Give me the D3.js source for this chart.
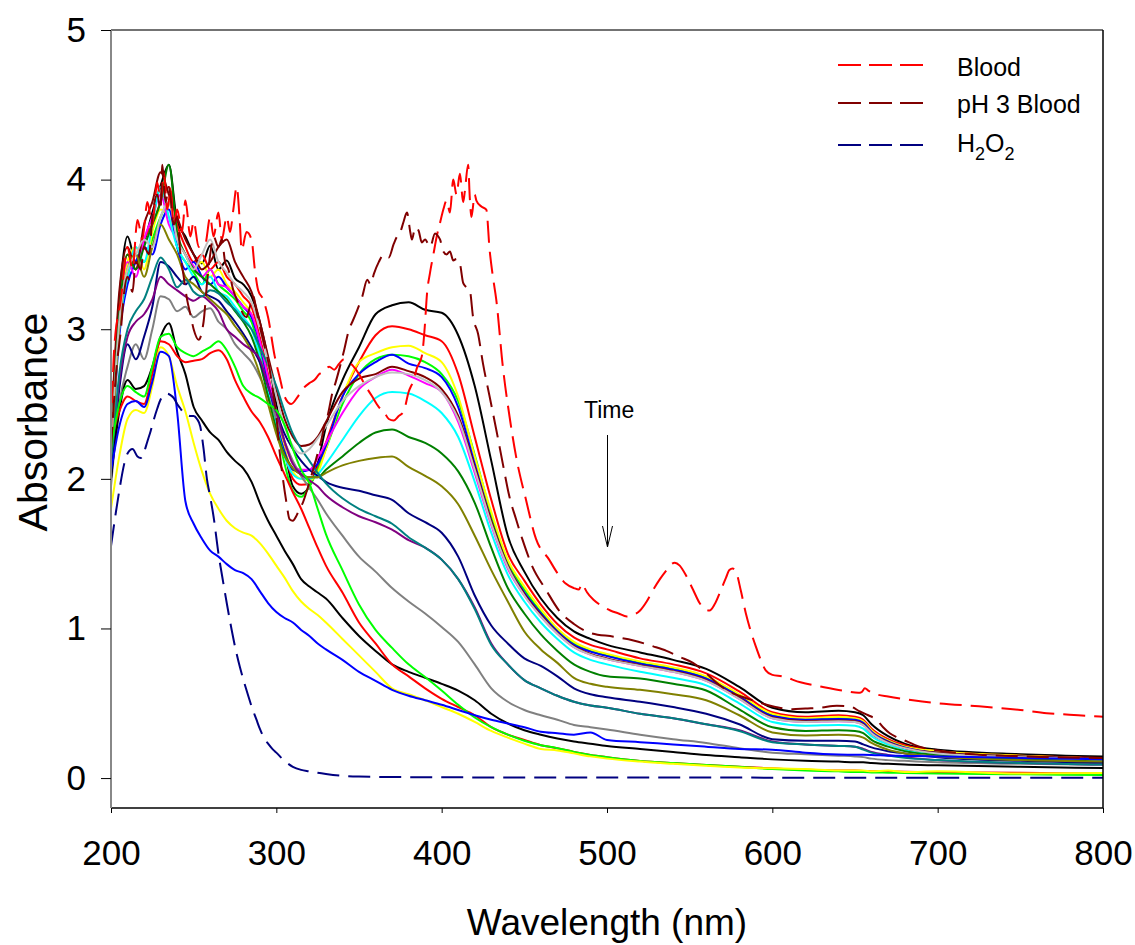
<!DOCTYPE html>
<html>
<head>
<meta charset="utf-8">
<script src="https://cdn.jsdelivr.net/npm/d3@7"></script>
<style>
  body { margin: 0; background: #fff; }
  svg { display: block; font-family: "Liberation Sans", Arial, sans-serif; }
</style>
</head>
<body>
<svg id="chart" width="1135" height="945"></svg>
<script>
// wavelength grid shared by the 20 solid time scans (nm)
const wl = [200,205,210,215,220,225,230,235,240,245,250,255,260,265,270,275,280,285,290,295,300,
  305,310,315,320,325,330,
  340,350,360,370,380,390,400,410,420,430,440,450,460,470,480,490,500,
  520,540,560,580,600,620,640,
  650,655,660,670,680,
  700,750,800];

// solid scans, absorbance on the wl grid
const scanBlack1 = [2.30,3.20,3.62,3.45,3.58,3.78,3.96,4.10,3.72,3.62,3.50,3.44,3.56,3.40,3.46,3.34,3.30,3.22,3.05,2.80,2.50,
  2.20,1.95,1.90,1.95,2.10,2.35,
  2.66,2.88,3.10,3.16,3.18,3.13,3.11,2.96,2.62,2.12,1.62,1.38,1.20,1.07,0.98,0.93,0.89,
  0.84,0.79,0.73,0.61,0.47,0.44,0.45,
  0.44,0.42,0.36,0.28,0.23,
  0.19,0.16,0.145];
const scanRed1 = [2.20,3.10,3.50,3.40,3.60,3.70,3.85,3.95,3.70,3.55,3.45,3.50,3.40,3.45,3.35,3.30,3.22,3.15,2.95,2.70,2.42,
  2.18,2.00,1.96,1.97,2.08,2.24,
  2.55,2.78,2.96,3.02,3.00,2.96,2.92,2.70,2.28,1.86,1.50,1.32,1.16,1.03,0.94,0.89,0.86,
  0.80,0.76,0.70,0.58,0.44,0.41,0.42,
  0.41,0.39,0.33,0.26,0.22,
  0.18,0.15,0.135];
const scanLime1 = [2.15,3.00,3.35,3.50,3.45,3.60,3.75,3.85,3.55,3.45,3.38,3.30,3.40,3.30,3.25,3.20,3.12,3.05,2.85,2.60,2.35,
  2.10,1.92,1.88,1.95,2.06,2.20,
  2.50,2.70,2.80,2.83,2.82,2.78,2.70,2.52,2.16,1.76,1.44,1.26,1.11,0.99,0.90,0.85,0.82,
  0.77,0.73,0.67,0.55,0.42,0.395,0.40,
  0.395,0.375,0.315,0.25,0.21,
  0.175,0.145,0.13];
const scanYellow1 = [2.25,3.05,3.45,3.55,3.40,3.65,3.80,3.75,3.60,3.50,3.40,3.45,3.35,3.40,3.30,3.25,3.18,3.10,2.90,2.66,2.40,
  2.20,2.05,2.00,1.99,2.04,2.20,
  2.55,2.78,2.84,2.88,2.89,2.84,2.78,2.55,2.15,1.78,1.46,1.28,1.13,1.00,0.91,0.86,0.83,
  0.78,0.74,0.68,0.56,0.43,0.40,0.41,
  0.40,0.38,0.32,0.25,0.21,
  0.18,0.15,0.13];
const scanBlue1 = [2.10,2.95,3.30,3.45,3.55,3.50,3.70,3.80,3.55,3.40,3.45,3.35,3.30,3.35,3.28,3.22,3.15,3.08,2.90,2.64,2.38,
  2.18,2.06,2.05,2.06,2.10,2.22,
  2.55,2.70,2.78,2.83,2.77,2.74,2.68,2.48,2.10,1.72,1.42,1.24,1.10,0.98,0.89,0.845,0.815,
  0.765,0.725,0.665,0.545,0.415,0.39,0.395,
  0.39,0.37,0.31,0.245,0.205,
  0.17,0.145,0.13];
const scanMagenta = [2.15,3.10,3.45,3.35,3.60,3.75,3.90,3.70,3.60,3.50,3.42,3.35,3.40,3.30,3.28,3.22,3.15,3.10,2.92,2.68,2.45,
  2.25,2.10,2.06,2.06,2.14,2.24,
  2.44,2.60,2.68,2.73,2.69,2.64,2.58,2.38,2.04,1.69,1.40,1.22,1.08,0.965,0.875,0.825,0.795,
  0.75,0.71,0.65,0.53,0.40,0.375,0.38,
  0.375,0.355,0.30,0.235,0.20,
  0.165,0.14,0.125];
const scanCyan = [2.10,3.00,3.35,3.55,3.45,3.70,3.95,3.75,3.55,3.45,3.35,3.30,3.35,3.25,3.22,3.15,3.08,3.00,2.82,2.58,2.35,
  2.15,2.03,2.00,2.00,2.03,2.10,
  2.26,2.42,2.54,2.58,2.57,2.52,2.44,2.28,1.98,1.64,1.36,1.18,1.04,0.93,0.84,0.79,0.76,
  0.71,0.67,0.62,0.50,0.375,0.35,0.355,
  0.35,0.33,0.28,0.225,0.19,
  0.16,0.135,0.125];
const scanGray = [1.95,2.50,2.75,2.90,2.80,3.00,3.22,3.20,3.12,3.15,3.08,3.12,3.14,3.05,3.00,2.90,2.84,2.78,2.68,2.55,2.40,
  2.25,2.12,2.02,1.94,1.86,1.77,
  1.62,1.48,1.38,1.27,1.18,1.10,1.01,0.91,0.76,0.60,0.51,0.455,0.42,0.39,0.355,0.34,0.325,
  0.29,0.26,0.235,0.20,0.17,0.16,0.15,
  0.145,0.14,0.13,0.12,0.115,
  0.105,0.095,0.09];
const scanMaroon = [2.30,3.25,3.55,3.40,3.70,3.85,4.05,3.90,3.75,3.60,3.50,3.40,3.45,3.55,3.60,3.45,3.35,3.25,3.05,2.82,2.60,
  2.40,2.28,2.22,2.23,2.28,2.38,
  2.58,2.67,2.70,2.75,2.72,2.68,2.60,2.42,2.08,1.72,1.42,1.23,1.09,0.97,0.88,0.83,0.80,
  0.755,0.715,0.655,0.535,0.405,0.38,0.385,
  0.38,0.36,0.30,0.24,0.20,
  0.17,0.145,0.13];
const scanDarkGreen = [2.20,3.10,3.50,3.40,3.55,3.70,3.85,4.10,3.65,3.50,3.40,3.35,3.30,3.25,3.20,3.12,3.05,2.95,2.78,2.55,2.33,
  2.16,2.07,2.03,2.01,2.01,2.06,
  2.15,2.24,2.31,2.33,2.28,2.24,2.17,2.05,1.84,1.54,1.27,1.10,0.96,0.85,0.76,0.71,0.68,
  0.665,0.63,0.585,0.46,0.34,0.315,0.32,
  0.315,0.30,0.255,0.21,0.18,
  0.155,0.13,0.12];
const scanNavy = [2.00,2.60,2.90,2.80,2.95,3.15,3.45,3.42,3.35,3.30,3.35,3.25,3.22,3.19,3.12,3.05,2.97,2.88,2.78,2.62,2.45,
  2.30,2.20,2.12,2.06,2.02,1.98,
  1.94,1.92,1.89,1.86,1.77,1.71,1.64,1.48,1.22,1.02,0.90,0.80,0.75,0.68,0.60,0.56,0.54,
  0.51,0.475,0.43,0.36,0.26,0.25,0.25,
  0.245,0.225,0.205,0.18,0.165,
  0.14,0.115,0.10];
const scanOlive = [2.10,3.00,3.40,3.50,3.35,3.55,3.70,3.60,3.50,3.35,3.30,3.25,3.20,3.15,3.10,3.02,2.95,2.85,2.70,2.50,2.30,
  2.15,2.07,2.03,2.01,2.01,2.04,
  2.09,2.12,2.14,2.15,2.08,2.02,1.95,1.83,1.62,1.39,1.18,0.98,0.86,0.77,0.67,0.63,0.61,
  0.59,0.56,0.52,0.42,0.305,0.285,0.29,
  0.285,0.27,0.235,0.19,0.165,
  0.145,0.12,0.11];
const scanPurple = [2.05,2.65,2.95,3.05,3.10,3.20,3.35,3.30,3.26,3.22,3.19,3.22,3.18,3.12,3.00,2.95,2.90,2.86,2.80,2.62,2.45,
  2.25,2.10,2.03,1.99,1.95,1.89,
  1.81,1.75,1.71,1.66,1.59,1.54,1.46,1.33,1.14,0.90,0.76,0.655,0.60,0.55,0.51,0.485,0.47,
  0.43,0.40,0.36,0.32,0.245,0.225,0.215,
  0.21,0.195,0.175,0.155,0.14,
  0.12,0.10,0.09];
const scanTeal = [2.05,2.70,3.00,3.12,3.20,3.35,3.48,3.40,3.28,3.33,3.25,3.22,3.26,3.24,3.18,3.13,3.06,3.00,2.88,2.76,2.62,
  2.45,2.30,2.20,2.12,2.04,1.97,
  1.87,1.80,1.75,1.70,1.61,1.54,1.46,1.33,1.13,0.89,0.76,0.655,0.60,0.55,0.51,0.485,0.47,
  0.43,0.40,0.36,0.315,0.24,0.225,0.215,
  0.21,0.19,0.17,0.15,0.135,
  0.12,0.10,0.09];
const scanSilver = [2.20,3.05,3.40,3.50,3.60,3.55,3.75,3.85,3.60,3.50,3.40,3.50,3.60,3.45,3.38,3.30,3.25,3.18,3.00,2.78,2.55,
  2.35,2.22,2.17,2.20,2.27,2.35,
  2.52,2.62,2.68,2.71,2.70,2.66,2.58,2.40,2.06,1.70,1.41,1.22,1.08,0.965,0.875,0.825,0.795,
  0.75,0.71,0.65,0.53,0.40,0.375,0.38,
  0.375,0.355,0.30,0.235,0.20,
  0.165,0.14,0.125];
const scanBlack2 = [2.00,2.45,2.66,2.60,2.62,2.75,2.95,3.04,2.85,2.70,2.48,2.39,2.31,2.26,2.18,2.12,2.07,1.98,1.84,1.72,1.62,
  1.52,1.43,1.33,1.28,1.24,1.20,
  1.07,0.95,0.85,0.76,0.71,0.67,0.63,0.585,0.52,0.43,0.365,0.32,0.29,0.265,0.245,0.23,0.215,
  0.195,0.175,0.155,0.14,0.125,0.115,0.11,
  0.105,0.105,0.10,0.095,0.09,
  0.085,0.075,0.067];
const scanRed2 = [2.25,2.45,2.55,2.52,2.50,2.70,2.92,2.90,2.82,2.78,2.79,2.80,2.84,2.86,2.80,2.66,2.55,2.45,2.38,2.28,2.15,
  2.03,1.91,1.80,1.67,1.54,1.42,
  1.24,1.04,0.90,0.76,0.68,0.60,0.53,0.475,0.42,0.34,0.29,0.255,0.22,0.20,0.175,0.155,0.14,
  0.115,0.10,0.088,0.075,0.065,0.055,0.05,
  0.05,0.048,0.046,0.044,0.042,
  0.04,0.035,0.03];
const scanLime2 = [2.20,2.50,2.62,2.58,2.55,2.75,2.95,2.97,2.88,2.84,2.82,2.85,2.88,2.92,2.86,2.75,2.62,2.57,2.54,2.50,2.46,
  2.36,2.20,2.06,1.97,1.80,1.63,
  1.39,1.16,0.99,0.87,0.76,0.675,0.585,0.49,0.405,0.34,0.29,0.25,0.22,0.20,0.175,0.155,0.14,
  0.115,0.10,0.088,0.075,0.06,0.05,0.045,
  0.04,0.04,0.038,0.036,0.034,
  0.03,0.025,0.02];
const scanYellow2 = [1.80,2.15,2.40,2.46,2.44,2.62,2.88,2.82,2.62,2.45,2.24,2.05,1.90,1.80,1.72,1.67,1.64,1.62,1.57,1.50,1.42,
  1.34,1.25,1.18,1.13,1.09,1.04,
  0.93,0.82,0.71,0.60,0.56,0.52,0.475,0.43,0.375,0.315,0.27,0.23,0.195,0.185,0.165,0.145,0.13,
  0.11,0.095,0.082,0.07,0.065,0.06,0.05,
  0.05,0.05,0.045,0.05,0.04,
  0.045,0.03,0.034];
const scanBlue2 = [2.05,2.35,2.50,2.52,2.48,2.65,2.85,2.82,2.45,1.85,1.70,1.60,1.52,1.48,1.43,1.39,1.37,1.33,1.25,1.17,1.11,
  1.07,1.04,0.99,0.95,0.90,0.86,
  0.79,0.71,0.65,0.59,0.55,0.52,0.49,0.455,0.42,0.39,0.365,0.34,0.31,0.30,0.29,0.305,0.255,
  0.24,0.225,0.21,0.195,0.19,0.17,0.158,
  0.156,0.156,0.155,0.15,0.148,
  0.145,0.135,0.126];

// reference spectra (dashed)
const bloodWl = [200,202,206,210,213,216,219,222,225,228,230,232,234,236,238,240,243,245,248,250,253,257,260,262,265,267,270,272,274,276,278,279,282,285,287,289,292,295,299,302,305,309,313,316,320,323,326,329,332,335,338,341,343,346,350,354,358,362,365,368,371,374,377,380,383,385,388,390,391,393,395,397,399,401,403,405,407,409,411,413,414,416,417,418,420,421,424,427,429,431,433,437,441,445,451,457,465,470,475,480,483,485,486,488,492,497,502,507,512,516,520,524,528,532,536,539,541,544,548,552,556,559,562,565,569,572,574,576,578,581,584,587,590,593,596,600,606,617,630,645,652,654,656,658,663,670,685,700,725,750,766,785,800];
const bloodAbs = [2.30,2.88,3.20,3.55,3.40,3.73,3.60,3.85,3.70,3.98,3.85,4.05,3.80,3.92,3.70,3.80,3.65,3.86,3.62,3.72,3.55,3.57,3.75,3.62,3.78,3.60,3.75,3.65,3.80,3.95,3.70,3.53,3.65,3.60,3.40,3.26,3.20,3.08,2.82,2.68,2.55,2.50,2.55,2.60,2.64,2.66,2.70,2.72,2.75,2.73,2.77,2.80,2.79,2.76,2.70,2.62,2.55,2.48,2.45,2.40,2.39,2.42,2.45,2.58,2.66,2.74,2.82,3.05,3.22,3.38,3.50,3.62,3.71,3.80,3.86,3.78,4.00,3.90,4.04,3.85,3.92,4.10,3.88,3.75,3.90,3.86,3.82,3.80,3.53,3.35,3.20,2.75,2.42,2.15,1.86,1.60,1.46,1.37,1.30,1.27,1.26,1.30,1.28,1.24,1.19,1.15,1.12,1.10,1.08,1.09,1.12,1.18,1.26,1.33,1.39,1.43,1.44,1.42,1.35,1.26,1.17,1.13,1.12,1.16,1.26,1.34,1.39,1.40,1.38,1.25,1.10,0.98,0.88,0.79,0.72,0.69,0.68,0.64,0.61,0.58,0.57,0.575,0.60,0.585,0.56,0.545,0.52,0.50,0.48,0.455,0.434,0.42,0.41];

const ph3Wl = [200,203,206,208,210,213,215,218,220,223,225,228,230,231,233,235,238,240,242,244,246,248,250,253,256,258,260,262,265,267,269,271,274,276,278,280,282,284,286,288,290,293,296,298,300,302,304,306,308,310,312,314,316,319,322,325,327,329,331,334,336,338,341,344,346,349,352,355,357,359,362,365,368,371,373,375,377,379,381,382,384,386,388,390,393,396,398,399,401,403,405,407,409,411,413,415,417,419,422,425,429,433,437,441,445,449,455,463,471,480,490,504,516,528,536,544,552,560,566,572,580,588,600,612,620,629,639,647,653,658,663,667,671,675,679,689,700,725,750,800];
const ph3Abs = [2.20,2.70,3.00,3.25,3.35,3.25,3.45,3.40,3.55,3.50,3.75,3.90,3.80,4.10,3.85,3.95,3.70,3.75,3.50,3.35,3.20,3.10,3.00,2.93,3.05,3.30,3.50,3.62,3.55,3.60,3.45,3.40,3.26,3.20,3.15,3.10,3.08,3.15,3.22,3.12,3.02,2.88,2.73,2.58,2.42,2.18,2.00,1.85,1.73,1.72,1.75,1.80,1.84,1.94,2.05,2.17,2.25,2.35,2.42,2.58,2.65,2.73,2.86,3.00,3.05,3.13,3.22,3.33,3.30,3.37,3.45,3.50,3.48,3.57,3.62,3.65,3.72,3.78,3.65,3.60,3.68,3.66,3.58,3.60,3.55,3.64,3.62,3.60,3.52,3.50,3.52,3.46,3.47,3.44,3.31,3.28,3.26,3.08,2.97,2.77,2.55,2.33,2.10,1.88,1.73,1.59,1.41,1.26,1.12,1.03,0.97,0.945,0.92,0.88,0.85,0.81,0.77,0.70,0.64,0.59,0.55,0.52,0.48,0.46,0.465,0.47,0.483,0.478,0.445,0.42,0.39,0.34,0.30,0.275,0.256,0.21,0.185,0.156,0.145,0.134];

const h2o2Wl = [200,203,205,208,210,213,216,218,220,222,224,226,228,230,232,234,236,238,240,242,244,246,248,250,252,254,256,258,260,262,265,268,270,273,275,278,280,283,285,288,290,293,295,298,300,305,310,315,320,325,330,340,350,370,400,500,600,700,800];
const h2o2Abs = [1.55,1.78,1.92,2.10,2.17,2.20,2.15,2.14,2.18,2.25,2.32,2.40,2.47,2.53,2.56,2.57,2.56,2.54,2.50,2.47,2.44,2.43,2.42,2.42,2.40,2.35,2.20,2.00,1.88,1.75,1.50,1.30,1.17,0.99,0.88,0.74,0.66,0.55,0.48,0.39,0.33,0.26,0.23,0.19,0.17,0.115,0.075,0.055,0.045,0.035,0.027,0.015,0.01,0.007,0.005,0.004,0.003,0.003,0.003];

const xTicks = [200, 300, 400, 500, 600, 700, 800];
const yTicks = [0, 1, 2, 3, 4, 5];

const scans = [
  { color: "#000000", values: scanBlack1 },
  { color: "#ff0000", values: scanRed1 },
  { color: "#00ff00", values: scanLime1 },
  { color: "#ffff00", values: scanYellow1 },
  { color: "#0000ff", values: scanBlue1 },
  { color: "#ff00ff", values: scanMagenta },
  { color: "#00ffff", values: scanCyan },
  { color: "#808080", values: scanGray },
  { color: "#800000", values: scanMaroon },
  { color: "#008000", values: scanDarkGreen },
  { color: "#000080", values: scanNavy },
  { color: "#808000", values: scanOlive },
  { color: "#800080", values: scanPurple },
  { color: "#008080", values: scanTeal },
  { color: "#c0c0c0", values: scanSilver },
  { color: "#000000", values: scanBlack2 },
  { color: "#ff0000", values: scanRed2 },
  { color: "#00ff00", values: scanLime2 },
  { color: "#ffff00", values: scanYellow2 },
  { color: "#0000ff", values: scanBlue2 }
];

const refs = [
  { label: "Blood", color: "#ff0000", wl: bloodWl, values: bloodAbs },
  { label: "pH 3 Blood", color: "#800000", wl: ph3Wl, values: ph3Abs },
  { label: "H2O2", color: "#000080", wl: h2o2Wl, values: h2o2Abs }
];

const plotL = 111, plotR = 1103, plotT = 30, plotB = 808;

const svg = d3.select("#chart");

const x = d3.scaleLinear().domain([200, 800]).range([plotL, plotR]);
const y = d3.scaleLinear().domain([-0.2, 5]).range([plotB, plotT]);

const line = d3.line()
  .x(d => x(d[0]))
  .y(d => y(d[1]))
  .curve(d3.curveMonotoneX);

const plot = svg.append("g");

// solid time scans
scans.forEach(s => {
  plot.append("path")
    .datum(wl.map((w, i) => [w, s.values[i]]))
    .attr("fill", "none")
    .attr("stroke", s.color)
    .attr("stroke-width", 2)
    .attr("stroke-linejoin", "round")
    .attr("d", line);
});

// dashed reference spectra on top
refs.forEach(r => {
  plot.append("path")
    .datum(r.wl.map((w, i) => [w, r.values[i]]))
    .attr("fill", "none")
    .attr("stroke", r.color)
    .attr("stroke-width", 2)
    .attr("stroke-dasharray", "22,9")
    .attr("d", line);
});

// frame
svg.append("line").attr("x1", plotL).attr("x2", plotR).attr("y1", plotT).attr("y2", plotT)
  .attr("stroke", "#444").attr("stroke-width", 1.5);
svg.append("line").attr("x1", plotR).attr("x2", plotR).attr("y1", plotT).attr("y2", plotB)
  .attr("stroke", "#000").attr("stroke-width", 1.5);
svg.append("line").attr("x1", plotL).attr("x2", plotR).attr("y1", plotB).attr("y2", plotB)
  .attr("stroke", "#000").attr("stroke-width", 1.5);
svg.append("line").attr("x1", plotL).attr("x2", plotL).attr("y1", plotT).attr("y2", plotB)
  .attr("stroke", "#888").attr("stroke-width", 2);

// axes
const xAxis = svg.append("g")
  .attr("transform", `translate(0,${plotB})`)
  .call(d3.axisBottom(x).tickValues(xTicks).tickSize(5).tickPadding(27).tickFormat(d3.format("d")));
xAxis.select(".domain").remove();
xAxis.selectAll("text").attr("font-size", "35px").attr("fill", "#000")
  .attr("font-family", "'Liberation Sans', Arial, sans-serif");

const yAxis = svg.append("g")
  .attr("transform", `translate(${plotL},0)`)
  .call(d3.axisLeft(y).tickValues(yTicks).tickSize(10).tickPadding(15).tickFormat(d3.format("d")));
yAxis.select(".domain").remove();
yAxis.selectAll("text").attr("font-size", "35px").attr("fill", "#000")
  .attr("font-family", "'Liberation Sans', Arial, sans-serif");

// axis titles
svg.append("text")
  .attr("x", 607).attr("y", 935)
  .attr("text-anchor", "middle")
  .attr("font-size", "37px")
  .text("Wavelength (nm)");

svg.append("text")
  .attr("transform", "translate(47,422) rotate(-90)")
  .attr("text-anchor", "middle")
  .attr("font-size", "41px")
  .text("Absorbance");

// legend
const legendY = [65, 103, 145];
refs.forEach((r, i) => {
  svg.append("line")
    .attr("x1", 838).attr("x2", 925)
    .attr("y1", legendY[i]).attr("y2", legendY[i])
    .attr("stroke", r.color).attr("stroke-width", 2)
    .attr("stroke-dasharray", "23,8");
});
svg.append("text").attr("x", 957).attr("y", 76).attr("font-size", "25px").text("Blood");
svg.append("text").attr("x", 957).attr("y", 113).attr("font-size", "25px").text("pH 3 Blood");
const h2o2 = svg.append("text").attr("x", 957).attr("y", 152).attr("font-size", "25px");
h2o2.append("tspan").text("H");
h2o2.append("tspan").attr("font-size", "18px").attr("dy", 8).text("2");
h2o2.append("tspan").attr("dy", -8).text("O");
h2o2.append("tspan").attr("font-size", "18px").attr("dy", 8).text("2");

// time annotation
svg.append("text").attr("x", 584).attr("y", 418).attr("font-size", "23px").text("Time");
svg.append("line").attr("x1", 607.5).attr("x2", 607.5).attr("y1", 435).attr("y2", 547)
  .attr("stroke", "#000").attr("stroke-width", 1);
svg.append("path").attr("d", "M602.5,526 L607.5,547 L612.5,526")
  .attr("fill", "none").attr("stroke", "#000").attr("stroke-width", 1);
</script>
</body>
</html>
